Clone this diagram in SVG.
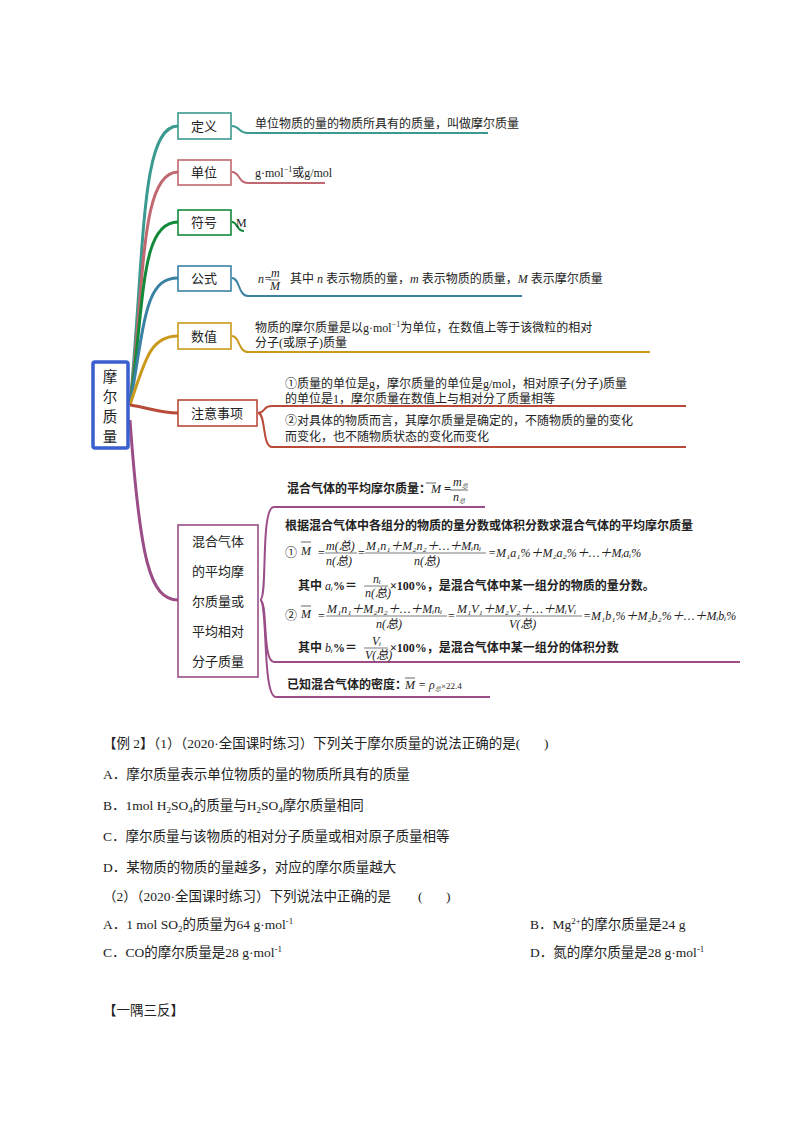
<svg xmlns="http://www.w3.org/2000/svg" width="800" height="1132" viewBox="0 0 800 1132">
<style>
text{font-family:"Liberation Serif","Noto Sans CJK SC",serif;font-size:12px;fill:#222}
.n{font-size:13px}
.b{font-size:14.5px}
.f{font-style:italic}
.box{fill:#fff;stroke-width:1.6}
.ln{fill:none;stroke-width:2}
.br{fill:none;stroke-width:3}
</style>
<rect width="800" height="1132" fill="#fff"/>
<g id="connectors">
<path class="br" stroke="#3a9a8f" d="M130,405 C145,250 140,126 178,126"/>
<path class="br" stroke="#c0676f" d="M130,405 C145,280 140,172 178,172"/>
<path class="br" stroke="#138a3a" d="M130,405 C145,300 140,222 178,222"/>
<path class="br" stroke="#3a82a4" d="M130,405 C145,320 145,278 178,278"/>
<path class="br" stroke="#c99a1c" d="M130,405 C145,360 150,336 178,336"/>
<path class="br" stroke="#b84a3a" d="M130,405 C150,408 160,413 178,413"/>
<path class="br" stroke="#9a4d87" d="M130,420 C140,560 150,600 178,600"/>
<path class="ln" stroke="#3a9a8f" d="M232,126 C240,126 238,133 248,133 H488"/>
<path class="ln" stroke="#c0676f" d="M232,172 C240,172 238,183 248,183 H325"/>
<path class="ln" stroke="#138a3a" d="M232,222 C238,222 236,231 244,231"/>
<path class="ln" stroke="#3a82a4" d="M232,278 C240,278 238,296 248,296 H522"/>
<path class="ln" stroke="#c99a1c" d="M232,336 C240,336 238,352 248,352 H650"/>
<path class="ln" stroke="#b84a3a" d="M258,413 C266,413 262,406 272,406 H686"/>
<path class="ln" stroke="#b84a3a" d="M258,413 C266,413 262,447 272,447 H686"/>
<path class="ln" stroke="#9a4d87" d="M260,600 C268,600 260,507 274,507 H485"/>
<path class="ln" stroke="#9a4d87" d="M260,600 C268,600 262,662 274,662 H740"/>
<path class="ln" stroke="#9a4d87" d="M260,600 C268,600 262,697 276,697 H490"/>
</g>
<g id="center">
<rect x="93" y="362" width="35" height="86" fill="#fff" stroke="#3a5fcf" stroke-width="3.5" rx="2"/>
<text class="b" x="110" y="382" text-anchor="middle">摩</text>
<text class="b" x="110" y="402" text-anchor="middle">尔</text>
<text class="b" x="110" y="422" text-anchor="middle">质</text>
<text class="b" x="110" y="442" text-anchor="middle">量</text>
</g>
<g id="n-def"><rect class="box" x="178" y="113" width="53" height="26" stroke="#3a9a8f"/><text class="n" x="204" y="131" text-anchor="middle">定义</text>
<text x="255" y="128">单位物质的量的物质所具有的质量，叫做摩尔质量</text></g>
<g id="n-unit"><rect class="box" x="178" y="160" width="53" height="25" stroke="#c0676f"/><text class="n" x="204" y="177" text-anchor="middle">单位</text>
<text x="255" y="177">g·mol<tspan dy="-5" font-size="8">−1</tspan><tspan dy="5">或g/mol</tspan></text></g>
<g id="n-sym"><rect class="box" x="178" y="210" width="53" height="25" stroke="#138a3a"/><text class="n" x="204" y="227" text-anchor="middle">符号</text>
<text x="236" y="227" font-size="10">M</text></g>
<g id="n-formula"><rect class="box" x="178" y="266" width="53" height="25" stroke="#3a82a4"/><text class="n" x="204" y="283" text-anchor="middle">公式</text>
<text class="f" x="258" y="283" font-size="9">n=</text><text class="f" x="271" y="277" font-size="7">m</text><line x1="269" y1="280" x2="279" y2="280" stroke="#222" stroke-width="0.6"/><text class="f" x="270" y="290" font-size="8">M</text>
<text x="290" y="283" font-size="10">其中 <tspan class="f">n</tspan> 表示物质的量，<tspan class="f">m</tspan> 表示物质的质量，<tspan class="f">M</tspan> 表示摩尔质量</text></g>
<g id="n-value"><rect class="box" x="178" y="323" width="53" height="26" stroke="#c99a1c"/><text class="n" x="204" y="341" text-anchor="middle">数值</text>
<text x="255" y="332">物质的摩尔质量是以g·mol<tspan dy="-5" font-size="8">−1</tspan><tspan dy="5">为单位，在数值上等于该微粒的相对</tspan></text>
<text x="255" y="347">分子(或原子)质量</text></g>
<g id="n-note"><rect class="box" x="178" y="400" width="79" height="26" stroke="#b84a3a"/><text class="n" x="217" y="418" text-anchor="middle">注意事项</text>
<text x="285" y="388">①质量的单位是g，摩尔质量的单位是g/mol，相对原子(分子)质量</text>
<text x="285" y="403">的单位是1，摩尔质量在数值上与相对分了质量相等</text>
<text x="285" y="425">②对具体的物质而言，其摩尔质量是确定的，不随物质的量的变化</text>
<text x="285" y="441">而变化，也不随物质状态的变化而变化</text></g>
<g id="n-mix"><rect class="box" x="178" y="525" width="80" height="152" stroke="#9a4d87"/>
<text class="n" x="218" y="546" text-anchor="middle">混合气体</text>
<text class="n" x="218" y="576" text-anchor="middle">的平均摩</text>
<text class="n" x="218" y="606" text-anchor="middle">尔质量或</text>
<text class="n" x="218" y="636" text-anchor="middle">平均相对</text>
<text class="n" x="218" y="666" text-anchor="middle">分子质量</text>
<text x="287" y="493" font-size="11" font-weight="bold">混合气体的平均摩尔质量：<tspan class="f" font-weight="normal">M</tspan> =</text>
<line x1="426" y1="483" x2="436" y2="483" stroke="#222" stroke-width="0.7"/>
<text class="f" x="453" y="486" font-size="9">m<tspan font-size="6" dy="2">总</tspan></text>
<line x1="450" y1="490" x2="468" y2="490" stroke="#222" stroke-width="0.7"/>
<text class="f" x="453" y="501" font-size="9">n<tspan font-size="6" dy="2">总</tspan></text>
<text x="285" y="530" font-size="10" font-weight="bold">根据混合气体中各组分的物质的量分数或体积分数求混合气体的平均摩尔质量</text>
<text x="285" y="557" font-size="11">①</text>
<line x1="301" y1="542" x2="311" y2="542" stroke="#222" stroke-width="0.7"/>
<text class="f" x="301" y="555" font-size="11">M</text>
<text x="318" y="557" font-size="10">=</text>
<text class="f" x="326" y="550" font-size="9">m(总)</text><line x1="325" y1="553" x2="357" y2="553" stroke="#222" stroke-width="0.6"/><text class="f" x="326" y="565" font-size="9">n(总)</text>
<text x="358" y="557" font-size="10">=</text>
<text class="f" x="366" y="550" font-size="9">M₁n₁＋M₂n₂＋…＋Mᵢnᵢ</text><line x1="365" y1="553" x2="486" y2="553" stroke="#222" stroke-width="0.6"/><text class="f" x="414" y="565" font-size="9">n(总)</text>
<text class="f" x="488" y="557" font-size="9">=M₁a₁%＋M₂a₂%＋…＋Mᵢaᵢ%</text>
<text x="298" y="590" font-size="10" font-weight="bold">其中 <tspan class="f" font-weight="normal">aᵢ</tspan>%＝</text>
<text class="f" x="373" y="583" font-size="8">nᵢ</text><line x1="364" y1="586" x2="388" y2="586" stroke="#222" stroke-width="0.6"/><text class="f" x="365" y="597" font-size="8">n(总)</text>
<text x="390" y="590" font-size="10" font-weight="bold">×100%，是混合气体中某一组分的物质的量分数。</text>
<text x="285" y="620" font-size="11">②</text>
<line x1="301" y1="606" x2="311" y2="606" stroke="#222" stroke-width="0.7"/>
<text class="f" x="301" y="618" font-size="11">M</text>
<text x="318" y="620" font-size="10">=</text>
<text class="f" x="327" y="613" font-size="9">M₁n₁＋M₂n₂＋…＋Mᵢnᵢ</text><line x1="326" y1="616" x2="447" y2="616" stroke="#222" stroke-width="0.6"/><text class="f" x="376" y="628" font-size="9">n(总)</text>
<text x="448" y="620" font-size="10">=</text>
<text class="f" x="457" y="613" font-size="9">M₁V₁＋M₂V₂＋…＋MᵢVᵢ</text><line x1="456" y1="616" x2="582" y2="616" stroke="#222" stroke-width="0.6"/><text class="f" x="509" y="628" font-size="9">V(总)</text>
<text class="f" x="583" y="620" font-size="9">=M₁b₁%＋M₂b₂%＋…＋Mᵢbᵢ%</text>
<text x="298" y="652" font-size="10" font-weight="bold">其中 <tspan class="f" font-weight="normal">bᵢ</tspan>%＝</text>
<text class="f" x="372" y="645" font-size="8">Vᵢ</text><line x1="364" y1="648" x2="388" y2="648" stroke="#222" stroke-width="0.6"/><text class="f" x="365" y="659" font-size="8">V(总)</text>
<text x="390" y="652" font-size="10" font-weight="bold">×100%，是混合气体中某一组分的体积分数</text>
<text x="287" y="689" font-size="10" font-weight="bold">已知混合气体的密度：</text>
<line x1="405" y1="678" x2="415" y2="678" stroke="#222" stroke-width="0.7"/>
<text class="f" x="405" y="689" font-size="11">M = ρ<tspan font-size="6" dy="2">总</tspan><tspan dy="-2" font-size="9" font-style="normal">×22.4</tspan></text>
</g>
<g id="text-body">
<text x="103" y="748" style="font-size:13.5px">【例 2】（1）（2020·全国课时练习）下列关于摩尔质量的说法正确的是(&#160;&#160;&#160;&#160;&#160;&#160;&#160;)</text>
<text x="103" y="779" style="font-size:13.5px">A．摩尔质量表示单位物质的量的物质所具有的质量</text>
<text x="103" y="810" style="font-size:13.5px">B．1mol H<tspan font-size="9" dy="3">2</tspan><tspan dy="-3">SO</tspan><tspan font-size="9" dy="3">4</tspan><tspan dy="-3">的质量与H</tspan><tspan font-size="9" dy="3">2</tspan><tspan dy="-3">SO</tspan><tspan font-size="9" dy="3">4</tspan><tspan dy="-3">摩尔质量相同</tspan></text>
<text x="103" y="841" style="font-size:13.5px">C．摩尔质量与该物质的相对分子质量或相对原子质量相等</text>
<text x="103" y="872" style="font-size:13.5px">D．某物质的物质的量越多，对应的摩尔质量越大</text>
<text x="103" y="901" style="font-size:13.5px">（2）（2020·全国课时练习）下列说法中正确的是&#160;&#160;&#160;&#160;&#160;&#160;&#160;&#160;(&#160;&#160;&#160;&#160;&#160;&#160;&#160;)</text>
<text x="103" y="929" style="font-size:13.5px">A．1 mol SO<tspan font-size="9" dy="3">2</tspan><tspan dy="-3">的质量为64 g·mol</tspan><tspan font-size="9" dy="-5">-1</tspan></text>
<text x="530" y="929" style="font-size:13.5px">B．Mg<tspan font-size="9" dy="-5">2+</tspan><tspan dy="5">的摩尔质量是24 g</tspan></text>
<text x="103" y="957" style="font-size:13.5px">C．CO的摩尔质量是28 g·mol<tspan font-size="9" dy="-5">-1</tspan></text>
<text x="530" y="957" style="font-size:13.5px">D．氮的摩尔质量是28 g·mol<tspan font-size="9" dy="-5">-1</tspan></text>
<text x="103" y="1015" style="font-size:13.5px">【一隅三反】</text>
</g>
</svg>
